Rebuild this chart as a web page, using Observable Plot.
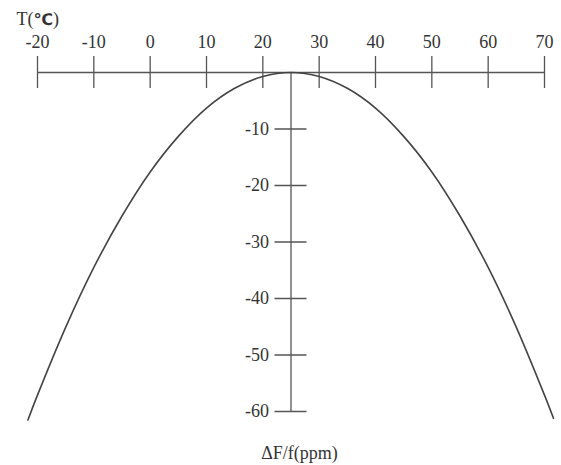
<!DOCTYPE html>
<html>
<head>
<meta charset="utf-8">
<script src="https://cdn.jsdelivr.net/npm/d3@7"></script>
<script src="https://cdn.jsdelivr.net/npm/@observablehq/plot@0.6"></script>
<style>
  html, body { margin: 0; padding: 0; background: #fff; }
</style>
</head>
<body>
<div id="chart"></div>
<script>
// Temperature (°C) along the top axis
const temps = [-21.7, -20, -15, -10, -5, 0, 5, 10, 15, 20, 25, 30, 35, 40, 45, 50, 55, 60, 65, 70, 71.6];
// Frequency deviation ΔF/f (ppm)
const ppm   = [-61.5, -57.1, -45.1, -34.5, -25.4, -17.6, -11.3, -6.3, -2.8, -0.7, 0, -0.7, -2.8, -6.3, -11.3, -17.6, -25.4, -34.5, -45.1, -57.1, -61.2];
// Tick labels
const xTicks = [-20, -10, 0, 10, 20, 30, 40, 50, 60, 70];
const yTicks = [-10, -20, -30, -40, -50, -60];
const turnover = 25;
const xTitle = "T(℃)";
const yTitle = "ΔF/f(ppm)";

const curve = temps.map((t, i) => ({t, p: ppm[i]}));

const axisColor = "#555";
const textColor = "#333";
const serif = "'Liberation Serif', 'DejaVu Serif', serif";

const chart = Plot.plot({
  width: 561,
  height: 465,
  marginTop: 72,
  marginBottom: 54,
  marginLeft: 37,
  marginRight: 17,
  style: {fontFamily: serif, background: "#fff"},
  x: {domain: [-20, 70], axis: null},
  y: {domain: [0, -60], axis: null, range: [72, 411]},
  marks: [
    Plot.ruleY([0], {x1: -20, x2: 70, stroke: axisColor, strokeWidth: 1.3}),
    Plot.ruleX(xTicks, {x: d => d, y1: 0, y2: 0, insetTop: -16, insetBottom: -16, stroke: axisColor, strokeWidth: 1.3}),
    Plot.text(xTicks, {x: d => d, y: 0, text: d => String(d), dy: -30, fontSize: 18, fill: textColor}),
    Plot.ruleX([turnover], {y1: 0, y2: -60, stroke: axisColor, strokeWidth: 1.3}),
    Plot.ruleY(yTicks, {y: d => d, x1: turnover, x2: turnover, insetLeft: -16, insetRight: -16, stroke: axisColor, strokeWidth: 1.3}),
    Plot.text(yTicks, {x: turnover, y: d => d, text: d => String(d), dx: -22, textAnchor: "end", fontSize: 18, fill: textColor}),
    Plot.line(curve, {x: "t", y: "p", curve: "catmull-rom", stroke: "#444", strokeWidth: 1.6}),
    Plot.text([xTitle], {frameAnchor: "top-left", dx: -21, dy: -60, textAnchor: "start", fontSize: 18, fill: textColor, className: "ttitle"}),
    Plot.text([yTitle], {x: 26.5, frameAnchor: "bottom", dy: 47, fontSize: 18, fill: textColor})
  ]
});
// make only the degree symbol bold, as in the reference
d3.select(chart).selectAll(".ttitle text").each(function() {
  const t = d3.select(this);
  const s = t.text();
  const i = s.indexOf("℃");
  if (i < 0) return;
  t.text(null);
  t.append("tspan").text(s.slice(0, i));
  t.append("tspan").attr("font-weight", "bold").attr("font-family", "'DejaVu Sans', sans-serif").attr("font-size", 16).text("℃");
  t.append("tspan").text(s.slice(i + 1));
});
document.getElementById("chart").appendChild(chart);
</script>
</body>
</html>
